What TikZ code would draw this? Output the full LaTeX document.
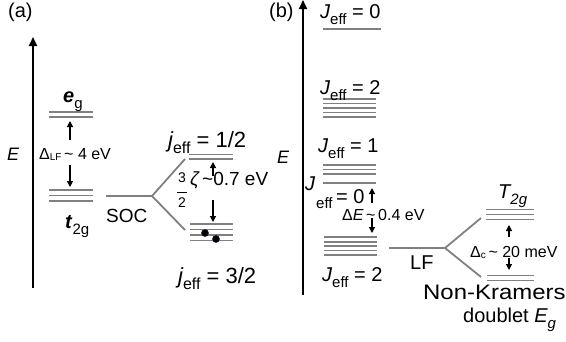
\documentclass[tikz,border=0pt]{standalone}
\usepackage{fontspec}
\setmainfont{Liberation Sans}
\usetikzlibrary{arrows.meta}
\definecolor{levelgray}{RGB}{128,128,128}
\definecolor{dotblue}{RGB}{20,30,70}
\tikzset{
  lvl/.style={draw=levelgray, line width=1.8pt},
  splitline/.style={draw=levelgray, line width=1.8pt, line join=miter},
  lbl/.style={inner sep=0pt, anchor=base west, font=\fontsize{20}{24}\selectfont},
  biglbl/.style={inner sep=0pt, anchor=base west, font=\fontsize{22}{26}\selectfont},
  gaplbl/.style={inner sep=0pt, anchor=base west, font=\fontsize{16}{19}\selectfont},
  smlbl/.style={inner sep=0pt, anchor=base west, font=\fontsize{15}{18}\selectfont},
  gaparrow/.style={-{Triangle[length=6pt,width=6pt]}, line width=1.2pt},
  axisarrow/.style={-{Triangle[length=9pt,width=8pt]}, line width=2pt},
  electron/.style={circle, fill=black, draw=dotblue, line width=0.6pt, minimum size=7pt, inner sep=0pt},
}
\newcommand{\sbx}[1]{\raisebox{-0.3em}{\fontsize{15}{18}\selectfont #1}}
\newcommand{\sbbig}[1]{\raisebox{-0.3em}{\fontsize{16}{19}\selectfont #1}}
\newcommand{\sbsm}[1]{\raisebox{-0.1em}{\fontsize{10}{12}\selectfont #1}}
\begin{document}
\begin{tikzpicture}[x=1pt,y=-1pt]
\useasboundingbox (0,0) rectangle (566,341);

% ---------- panel (a) ----------
\node[lbl] (pa) at (8,17) {(a)};
\coordinate (aa0) at (33,288);
\coordinate (aa1) at (33,37);
\draw[axisarrow] (aa0) -- (aa1);
\node[inner sep=0pt, anchor=base west, font=\fontsize{18}{22}\selectfont] (Ea) at (7,160) {\itshape E};

% e_g levels
\foreach \y in {112,117} \draw[lvl] (49,\y) -- (93,\y);
\node[lbl] (eg) at (63,102) {\textbf{\textit{e}}\sbx{g}};
% t_2g levels
\foreach \y in {190,195.5,201} \draw[lvl] (49,\y) -- (93,\y);
\node[lbl] (t2g) at (65,228) {\textbf{\textit{t}}\sbx{2g}};

\coordinate (lfu0) at (70,140); \coordinate (lfu1) at (70,121);
\coordinate (lfd0) at (70,165); \coordinate (lfd1) at (70,187);
\draw[gaparrow] (lfu0) -- (lfu1);
\draw[gaparrow] (lfd0) -- (lfd1);
\node[gaplbl] (dlf) at (39,159) {Δ\sbsm{LF}\,\textasciitilde\ 4 eV};

% SOC splitting
\coordinate (soc0) at (106,196);
\coordinate (socb) at (152,196);
\coordinate (socu) at (185,159);
\coordinate (socd) at (185,230);
\draw[splitline] (soc0) -- (socb) -- (socu);
\draw[splitline] (socb) -- (socd);
\node[inner sep=0pt, anchor=base west, font=\fontsize{19}{23}\selectfont] (soc) at (106,222) {SOC};

% j_eff = 1/2
\foreach \y in {154.5,159} \draw[lvl] (189,\y) -- (233,\y);
\node[biglbl] (jhalf) at (168,147) {\itshape j\upshape\sbbig{eff} = 1/2};
% j_eff = 3/2
\foreach \y in {224,229.5,235,240.5} \draw[lvl] (190,\y) -- (233,\y);
\node[electron] (e1) at (205,233) {};
\node[electron] (e2) at (216,239) {};
\node[biglbl] (j32) at (178,283) {\itshape j\upshape\sbbig{eff} = 3/2};

\coordinate (su0) at (213,176); \coordinate (su1) at (213,162);
\coordinate (sd0) at (213,200); \coordinate (sd1) at (213,222);
\draw[gaparrow] (su0) -- (su1);
\draw[gaparrow] (sd0) -- (sd1);
\node[inner sep=0pt, font=\fontsize{14}{16}\selectfont] (f3) at (182,178) {3};
\node[inner sep=0pt, font=\fontsize{14}{16}\selectfont] (f2) at (182,203) {2};
\coordinate (fb0) at (177,192); \coordinate (fb1) at (187,192);
\draw[line width=0.8pt] (fb0) -- (fb1);
\node[inner sep=0pt, anchor=base west, font=\fontsize{19}{23}\selectfont] (zeta) at (190,185) {\itshape ζ\,\upshape\textasciitilde 0.7 eV};

% ---------- panel (b) ----------
\node[lbl] (pb) at (269,17) {(b)};
\coordinate (ba0) at (303,295);
\coordinate (ba1) at (303,0);
\draw[axisarrow] (ba0) -- (ba1);
\node[inner sep=0pt, anchor=base west, font=\fontsize{18}{22}\selectfont] (Eb) at (277,163) {\itshape E};

% J_eff = 0 (top)
\draw[lvl] (323,29) -- (381,29);
\node[lbl] (J0t) at (320,18) {\itshape J\upshape\sbx{eff} = 0};
% J_eff = 2 (upper)
\foreach \y in {99,103.5,108,112.5,117} \draw[lvl] (323,\y) -- (376,\y);
\node[lbl] (J2u) at (320,94) {\itshape J\upshape\sbx{eff} = 2};
% J_eff = 1
\foreach \y in {165,169.5,174} \draw[lvl] (323,\y) -- (376,\y);
\node[lbl] (J1) at (318,152) {\itshape J\upshape\sbx{eff} = 1};
% J_eff = 0 (lower)
\draw[lvl] (323,183) -- (376,183);
\node[lbl] (Jl) at (305,190) {\itshape J};
\node[smlbl] (effl) at (316,208) {eff};
\node[lbl] (eq0) at (336,203) {= 0};

% Delta E
\coordinate (eu0) at (372,203); \coordinate (eu1) at (372,188);
\coordinate (ed0) at (372,218); \coordinate (ed1) at (372,233);
\draw[gaparrow] (eu0) -- (eu1);
\draw[gaparrow] (ed0) -- (ed1);
\node[gaplbl] (dE) at (342,220) {Δ\itshape E\,\upshape\textasciitilde\,0.4 eV};

% J_eff = 2 (lower)
\foreach \y in {237.3,241.7,246,250.5,255} \draw[lvl] (324,\y) -- (377,\y);
\node[lbl] (J2l) at (322,281) {\itshape J\upshape\sbx{eff} = 2};

% LF splitting
\coordinate (lf0) at (389,248);
\coordinate (lfb) at (445,248);
\coordinate (lfu) at (481,218);
\coordinate (lfd) at (481,277);
\draw[splitline] (lf0) -- (lfb) -- (lfu);
\draw[splitline] (lfb) -- (lfd);
\node[lbl] (LF) at (410,269) {LF};

% T_2g
\foreach \y in {209.5,214.5,219.5} \draw[lvl] (486,\y) -- (534,\y);
\node[lbl] (T2g) at (498,198) {\itshape T\sbx{2g}};
% E_g doublet
\foreach \y in {275.5,280.5} \draw[lvl] (487,\y) -- (534,\y);
\node[inner sep=0pt, anchor=base west, font=\fontsize{21}{25}\selectfont] (nk) at (423,299) {\scalebox{1.14}[1]{Non-Kramers}};
\node[lbl] (dbl) at (463,322) {doublet \itshape E\sbx{g}};

\coordinate (cu0) at (509,237); \coordinate (cu1) at (509,225);
\coordinate (cd0) at (509,258); \coordinate (cd1) at (509,270);
\draw[gaparrow] (cu0) -- (cu1);
\draw[gaparrow] (cd0) -- (cd1);
\node[gaplbl] (dc) at (470,257) {Δ\sbsm{c}\,\textasciitilde\ 20 meV};
\end{tikzpicture}
\end{document}
